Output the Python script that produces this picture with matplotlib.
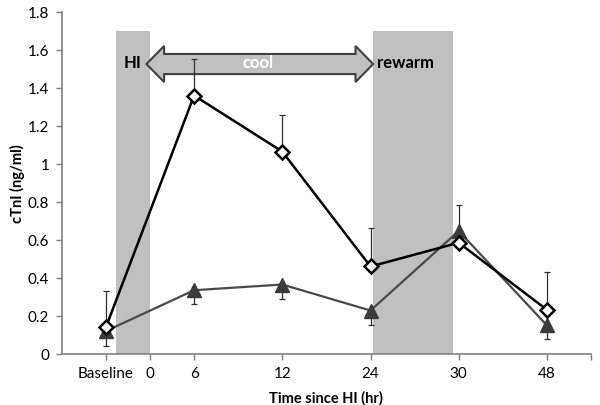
import matplotlib.pyplot as plt
from matplotlib.patches import Polygon, Rectangle

plt.rcParams['font.family'] = ['Lato', 'DejaVu Sans']

# category labels along the x axis (Baseline, 6, 12, 24, 30, 48 are data points)
cat_labels = ["Baseline", "6", "12", "24", "30", "48"]
cat_pos = [1, 2, 3, 4, 5, 6]

# diamond series (open markers, black line)
diam_y = [0.14, 1.36, 1.065, 0.46, 0.585, 0.232]
diam_err_up = [0.19, 0.19, 0.195, 0.20, 0.20, 0.198]

# triangle series (filled, dark gray)
tri_y = [0.12, 0.335, 0.365, 0.228, 0.647, 0.15]
tri_err_dn = [0.08, 0.075, 0.075, 0.075, 0.0, 0.07]

fig = plt.figure(figsize=(6.0, 4.06), dpi=100)
ax = fig.add_axes([0.103, 0.126, 0.882, 0.842])

gray = "#c0c0c0"
# shaded periods: HI and rewarm
ax.add_patch(Rectangle((1.11, 0), 0.39, 1.7, color=gray, lw=0, zorder=1))
ax.add_patch(Rectangle((4.03, 0), 0.91, 1.7, color=gray, lw=0, zorder=1))

# double headed "cool" block arrow
x0, x1, yc = 1.46, 4.03, 1.526
hl, hw, sw = 0.2, 0.095, 0.053
arrow = Polygon([(x0, yc), (x0 + hl, yc + hw), (x0 + hl, yc + sw), (x1 - hl, yc + sw),
                 (x1 - hl, yc + hw), (x1, yc), (x1 - hl, yc - hw), (x1 - hl, yc - sw),
                 (x0 + hl, yc - sw), (x0 + hl, yc - hw)],
                closed=True, fc=gray, ec="#404040", lw=1.5, zorder=2)
ax.add_patch(arrow)
ax.text(2.72, 1.535, "cool", color="white", fontsize=12, fontweight="bold",
        ha="center", va="center", zorder=4)
ax.text(1.305, 1.535, "HI", color="black", fontsize=12, fontweight="bold",
        ha="center", va="center", zorder=4)
ax.text(4.07, 1.535, "rewarm", color="black", fontsize=12, fontweight="bold",
        ha="left", va="center", zorder=4)

# error bars
ax.errorbar(cat_pos, diam_y, yerr=[[0] * 6, diam_err_up], fmt="none",
            ecolor="#303030", elinewidth=0.9, capsize=2.5, capthick=0.9, zorder=5)
ax.errorbar(cat_pos, tri_y, yerr=[tri_err_dn, [0] * 6], fmt="none",
            ecolor="#303030", elinewidth=0.9, capsize=2.5, capthick=0.9, zorder=5)

ax.plot(cat_pos, tri_y, color="#4a4a4a", lw=1.6, marker="^", ms=9.5,
        mfc="#3a3a3a", mec="#3a3a3a", zorder=6)
ax.plot(cat_pos, diam_y, color="black", lw=1.8, marker="D", ms=7.5,
        mfc="white", mec="black", mew=1.8, zorder=7)

ax.set_xlim(0.5, 6.5)
ax.set_ylim(0, 1.8)
ax.set_xticks([1, 1.5, 2, 3, 4, 5, 6, 6.5])
ax.set_xticklabels(["Baseline", "0", "6", "12", "24", "30", "48", ""])
yt = [0, 0.2, 0.4, 0.6, 0.8, 1.0, 1.2, 1.4, 1.6, 1.8]
ax.set_yticks(yt)
ax.set_yticklabels(["0" if v == 0 else ("1" if v == 1 else f"{v:.1f}") for v in yt])
ax.tick_params(labelsize=11, color="#808080", length=4, width=1, pad=5)

for s in ["top", "right"]:
    ax.spines[s].set_visible(False)
for s in ["left", "bottom"]:
    ax.spines[s].set_color("#808080")
    ax.spines[s].set_linewidth(1.2)

ax.set_xlabel("Time since HI (hr)", fontsize=10.5, fontweight="bold", labelpad=7)
ax.set_ylabel("cTnI (ng/ml)", fontsize=10.5, fontweight="bold", labelpad=2)

fig.savefig("out.png", dpi=100)
